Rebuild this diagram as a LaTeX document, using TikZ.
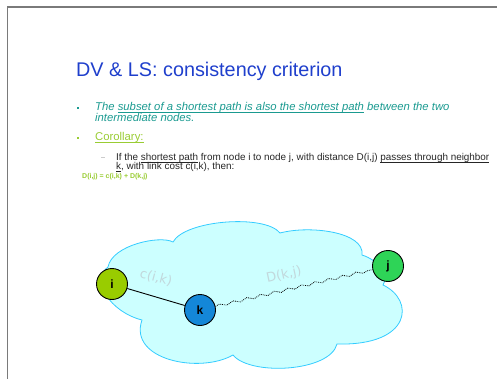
\documentclass[tikz,border=0pt]{standalone}
\usepackage{fontspec}
\setmainfont{Liberation Sans}
\newfontfamily\handfont{DejaVu Sans}
\usetikzlibrary{positioning,decorations.pathmorphing}
\definecolor{frame}{HTML}{7A7A7A}
\definecolor{titleblue}{HTML}{1F3FCC}
\definecolor{teal}{HTML}{1A9A90}
\definecolor{lime}{HTML}{99CC33}
\definecolor{cloudfill}{HTML}{CCFFFF}
\definecolor{cloudline}{HTML}{33CCFF}
\definecolor{nodei}{HTML}{99CC00}
\definecolor{nodek}{HTML}{1487D8}
\definecolor{nodej}{HTML}{2ED457}
\definecolor{faint}{HTML}{C2D8DC}
\newsavebox\ulbox
\newcommand\uln[1]{\sbox\ulbox{#1}\rlap{\rule[-1.1pt]{\wd\ulbox}{0.55pt}}\usebox\ulbox}
\tikzset{txt/.style={anchor=base west,inner sep=0pt,align=left}, bulletsq/.style={fill=#1,inner sep=0pt,minimum size=2pt}, peer/.style={circle,draw=black,line width=0.9pt,fill=#1,minimum size=31pt,inner sep=0pt,font=\bfseries\fontsize{12}{12}\selectfont}, cost/.style={text=faint,font=\handfont\fontsize{13}{13}\selectfont,inner sep=0pt}, hop/.style={line width=0.9pt,draw=black}, route/.style={densely dotted,line width=0.8pt,decorate,decoration={snake,amplitude=1.4pt,segment length=14pt}}}

\begin{document}
\begin{tikzpicture}[x=1pt,y=-1pt]
\useasboundingbox (0,0) rectangle (497,379);
% slide frame
\draw[frame,line width=1.5pt] (7.5,379) -- (7.5,7) -- (497,7);
% title and bullets
\node[txt,text=titleblue,font=\fontsize{19.8}{19.8}\selectfont] (title) at (76,77) {DV \& LS: consistency criterion};
\node[bulletsq=teal] (b1) at (78,108) {};
\node[txt,text=teal,font=\itshape\fontsize{11.3}{11.3}\selectfont] (l1) at (95,111) {The \uln{subset of a shortest path is also the shortest path} between the two};
\node[txt,text=teal,font=\itshape\fontsize{11.3}{11.3}\selectfont] (l2) at (95,122) {intermediate nodes.};
\node[bulletsq=lime] (b2) at (78,138) {};
\node[txt,text=lime,font=\fontsize{11.3}{11.3}\selectfont] (cor) at (95,141) {\uln{Corollary:}};
\node[fill=black!20,inner sep=0pt,minimum width=4pt,minimum height=0.6pt] (dash) at (102.5,157) {};
\node[txt,text=black!85,font=\fontsize{9.9}{9.9}\selectfont] (s1) at (116,161) {If the \uln{shortest path} from node i to node j, with distance D(i,j) \uln{passes through neighbor}};
\node[txt,text=black!85,font=\fontsize{9.9}{9.9}\selectfont] (s2) at (116,170) {\uln{k}, with link cost c(i,k), then:};
\node[txt,text=lime,font=\bfseries\fontsize{7}{7}\selectfont] (eq) at (82,179) {D(i,j) = c(i,k) + D(k,j)};
% network cloud
\draw[fill=cloudfill,draw=cloudline,line width=0.8pt] (142,320) .. controls (110,312) and (90,280) .. (108,267)
  .. controls (112,245) and (160,235) .. (173,242) .. controls (185,220) and (265,214) .. (280,233)
  .. controls (310,225) and (365,232) .. (362,255) .. controls (378,260) and (390,275) .. (383,285)
  .. controls (415,300) and (412,346) .. (337,344) .. controls (330,372) and (250,376) .. (233,355)
  .. controls (200,374) and (128,360) .. (142,320) -- cycle;
\node[cost,rotate=-15] (cik) at (156,278) {c(i,k)};
\node[cost,rotate=12] (dkj) at (284,275) {D(k,j)};
\node[peer=nodei] (i) at (112,284) {i};
\node[peer=nodek] (k) at (200,310) {k};
\node[peer=nodej] (j) at (388,266) {j};
\draw[hop] (i) -- (k);
\draw[route] (k) -- (j);
\end{tikzpicture}
\end{document}
